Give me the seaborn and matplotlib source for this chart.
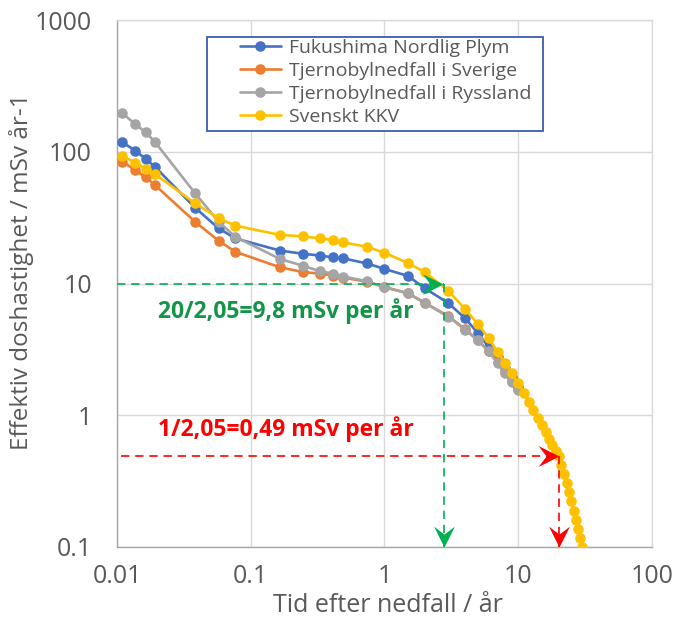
import matplotlib
matplotlib.use("Agg")
import numpy as np
import pandas as pd
import matplotlib.pyplot as plt
import seaborn as sns
from matplotlib.path import Path
from matplotlib.lines import Line2D
from matplotlib.patches import Rectangle
from matplotlib.ticker import LogLocator, NullFormatter, FixedLocator, FixedFormatter

# ---------------- data ----------------
early_days = [4, 5, 6, 7, 14, 21, 28, 60, 90, 120, 150, 180, 270]
later_years = [1, 1.5, 2, 3, 4, 5, 6, 7, 8, 9, 10]
tail_years = [11, 12, 13, 14, 15, 16, 17, 18, 19, 20,
              21, 22, 23, 24, 25, 26, 27, 28, 29, 30]

series_names = ["Fukushima Nordlig Plym", "Tjernobylnedfall i Sverige",
                "Tjernobylnedfall i Ryssland", "Svenskt KKV"]
series_colors = ["#4472C4", "#ED7D31", "#A5A5A5", "#FFC000"]

fukushima = [118, 102, 88, 77, 37.6, 26.2, 22.0, 17.8, 16.8, 16.3, 15.8, 15.5, 14.2,
             12.9, 11.4, 9.2, 7.1, 5.45, 4.2, 3.3, 2.75, 2.3, 1.95, 1.65]
sverige = [84, 72.7, 64, 56, 29.4, 21.1, 17.4, 13.3, 12.2, 11.9, 11.5, 11.1, 10.3,
           9.4, 8.45, 7.15, 5.65, 4.5, 3.72, 3.07, 2.52, 2.12, 1.82, 1.57]
ryssland = [196, 162, 140, 119, 48.4, 29.4, 22.6, 15.4, 13.6, 12.4, 11.9, 11.3, 10.4,
            9.36, 8.4, 7.1, 5.6, 4.45, 3.7, 3.05, 2.5, 2.1, 1.8, 1.55]
kkv = [93, 82.6, 74.3, 67.8, 40.6, 31.3, 27.5, 23.4, 22.8, 22.0, 21.4, 20.5, 19.0,
       17.1, 14.3, 12.2, 8.8, 6.4, 4.9, 3.85, 3.03, 2.5, 2.08, 1.75,
       1.48, 1.26, 1.09, 0.95, 0.84, 0.745, 0.665, 0.595, 0.54, 0.49,
       0.418, 0.357, 0.304, 0.26, 0.222, 0.189, 0.161, 0.138, 0.117, 0.10]

x_ticks = [0.01, 0.1, 1, 10, 100]
x_ticklabels = ["0.01", "0.1", "1", "10", "100"]
y_ticks = [0.1, 1, 10, 100, 1000]
y_ticklabels = ["0.1", "1", "10", "100", "1000"]

green_level = 10
green_time = 2.8
green_text = "20/2,05=9,8 mSv per år"
red_level = 0.49
red_time = 20
red_text = "1/2,05=0,49 mSv per år"

x_common = [d / 365 for d in early_days] + later_years
x_kkv = x_common + tail_years

rows = []
for name, xs, ys in [(series_names[0], x_common, fukushima),
                     (series_names[1], x_common, sverige),
                     (series_names[2], x_common, ryssland),
                     (series_names[3], x_kkv, kkv)]:
    for xv, yv in zip(xs, ys):
        rows.append({"t": xv, "dose": yv, "serie": name})
df = pd.DataFrame(rows)

# ---------------- style ----------------
sns.set_theme(style="white")
plt.rcParams["font.family"] = ["Open Sans", "DejaVu Sans"]
TXT = "#595959"

W, H = 673, 627
fig = plt.figure(figsize=(W / 100, H / 100), dpi=100)
L, R, T, B = 117, 652, 20, 547
ax = fig.add_axes([L / W, 1 - B / H, (R - L) / W, (B - T) / H])

MS = 7.6
LW = 1.9
sns.lineplot(data=df, x="t", y="dose", hue="serie", hue_order=series_names,
             palette=series_colors, marker="o", markersize=MS, markeredgewidth=0,
             linewidth=LW, sort=False, estimator=None, legend=False, ax=ax, zorder=3)

ax.set_xscale("log")
ax.set_yscale("log")
ax.set_xlim(0.01, 100)
ax.set_ylim(0.1, 1000)

ax.xaxis.set_major_locator(FixedLocator(x_ticks))
ax.xaxis.set_major_formatter(FixedFormatter(x_ticklabels))
ax.yaxis.set_major_locator(FixedLocator(y_ticks))
ax.yaxis.set_major_formatter(FixedFormatter(y_ticklabels))
ax.xaxis.set_minor_locator(LogLocator(base=10, subs=np.arange(2, 10)))
ax.yaxis.set_minor_locator(LogLocator(base=10, subs=np.arange(2, 10)))
ax.xaxis.set_minor_formatter(NullFormatter())
ax.yaxis.set_minor_formatter(NullFormatter())

ax.tick_params(axis="both", which="major", length=0, labelsize=18, labelcolor=TXT)
ax.tick_params(axis="x", which="major", pad=12)
ax.tick_params(axis="y", which="major", pad=18)
ax.tick_params(axis="both", which="minor", direction="in", length=4, width=0.8,
               color="#A6A6A6")
ax.grid(True, which="major", color="#D9D9D9", linewidth=1.0, zorder=0)
ax.set_axisbelow(True)
for s in ["top", "right"]:
    ax.spines[s].set_color("#D9D9D9")
    ax.spines[s].set_linewidth(1.0)
for s in ["left", "bottom"]:
    ax.spines[s].set_color("#A6A6A6")
    ax.spines[s].set_linewidth(1.0)

ax.set_xlabel("Tid efter nedfall / år", fontsize=18, color=TXT, va="center")
ax.set_ylabel("Effektiv doshastighet / mSv år-1", fontsize=17.5, color=TXT, va="center")
ax.xaxis.set_label_coords((388 - L) / (R - L), (B - 606) / (B - T))
ax.yaxis.set_label_coords((21 - L) / (R - L), (B - 272) / (B - T))

# ---------------- arrows ----------------
def head(direction):
    if direction == "right":
        v = [(0, 0), (-1, 0.5), (-0.62, 0), (-1, -0.5), (0, 0)]
    else:  # down
        v = [(0, 0), (0.5, 1), (0, 0.62), (-0.5, 1), (0, 0)]
    codes = [Path.MOVETO, Path.LINETO, Path.LINETO, Path.LINETO, Path.CLOSEPOLY]
    return Path(v, codes)

GREEN = "#00B050"
RED = "#FF0000"
dash = (0, (5, 3.5))
ax.plot([0.01, green_time], [green_level, green_level], color=GREEN, lw=1.2,
        linestyle=dash, zorder=4)
ax.plot([green_time, green_time], [green_level, 0.1], color=GREEN, lw=1.2,
        linestyle=dash, zorder=4)
ax.plot([0.0108, red_time], [red_level, red_level], color=RED, lw=1.2,
        linestyle=dash, zorder=4)
ax.plot([red_time, red_time], [red_level, 0.1], color=RED, lw=1.2,
        linestyle=dash, zorder=4)
ms = 30
ax.plot([green_time * 0.985], [green_level], marker=head("right"), markersize=ms,
        color=GREEN, markeredgewidth=0, linestyle="none", zorder=6, clip_on=False)
ax.plot([green_time], [0.1], marker=head("down"), markersize=ms,
        color=GREEN, markeredgewidth=0, linestyle="none", zorder=6, clip_on=False)
ax.plot([red_time], [red_level], marker=head("right"), markersize=ms,
        color=RED, markeredgewidth=0, linestyle="none", zorder=6, clip_on=False)
ax.plot([red_time], [0.1], marker=head("down"), markersize=ms,
        color=RED, markeredgewidth=0, linestyle="none", zorder=6, clip_on=False)

ax.text(0.0203, 6.2, green_text, color="#139447", fontsize=16.5, fontweight="bold",
        ha="left", va="center", zorder=6)
ax.text(0.0203, 0.78, red_text, color=RED, fontsize=16.5, fontweight="bold",
        ha="left", va="center", zorder=6)

# ---------------- legend ----------------
box = Rectangle((207 / W, 1 - 131 / H), (543 - 207) / W, (131 - 37) / H,
                transform=fig.transFigure, facecolor="white", edgecolor="#3A5DAE",
                linewidth=1.3, zorder=7, clip_on=False)
ax.add_patch(box)
handles = [Line2D([], [], color=c, marker="o", markersize=MS, markeredgewidth=0,
                  linewidth=LW) for c in series_colors]
leg = ax.legend(handles, series_names, loc="upper left",
                bbox_to_anchor=(240 / W, 1 - 39 / H), bbox_transform=fig.transFigure,
                frameon=False, fontsize=14, labelcolor=TXT, handlelength=2.1,
                handletextpad=0.4, labelspacing=0.25, borderpad=0, borderaxespad=0)
leg.set_zorder(8)

fig.savefig("out.png", dpi=100)
